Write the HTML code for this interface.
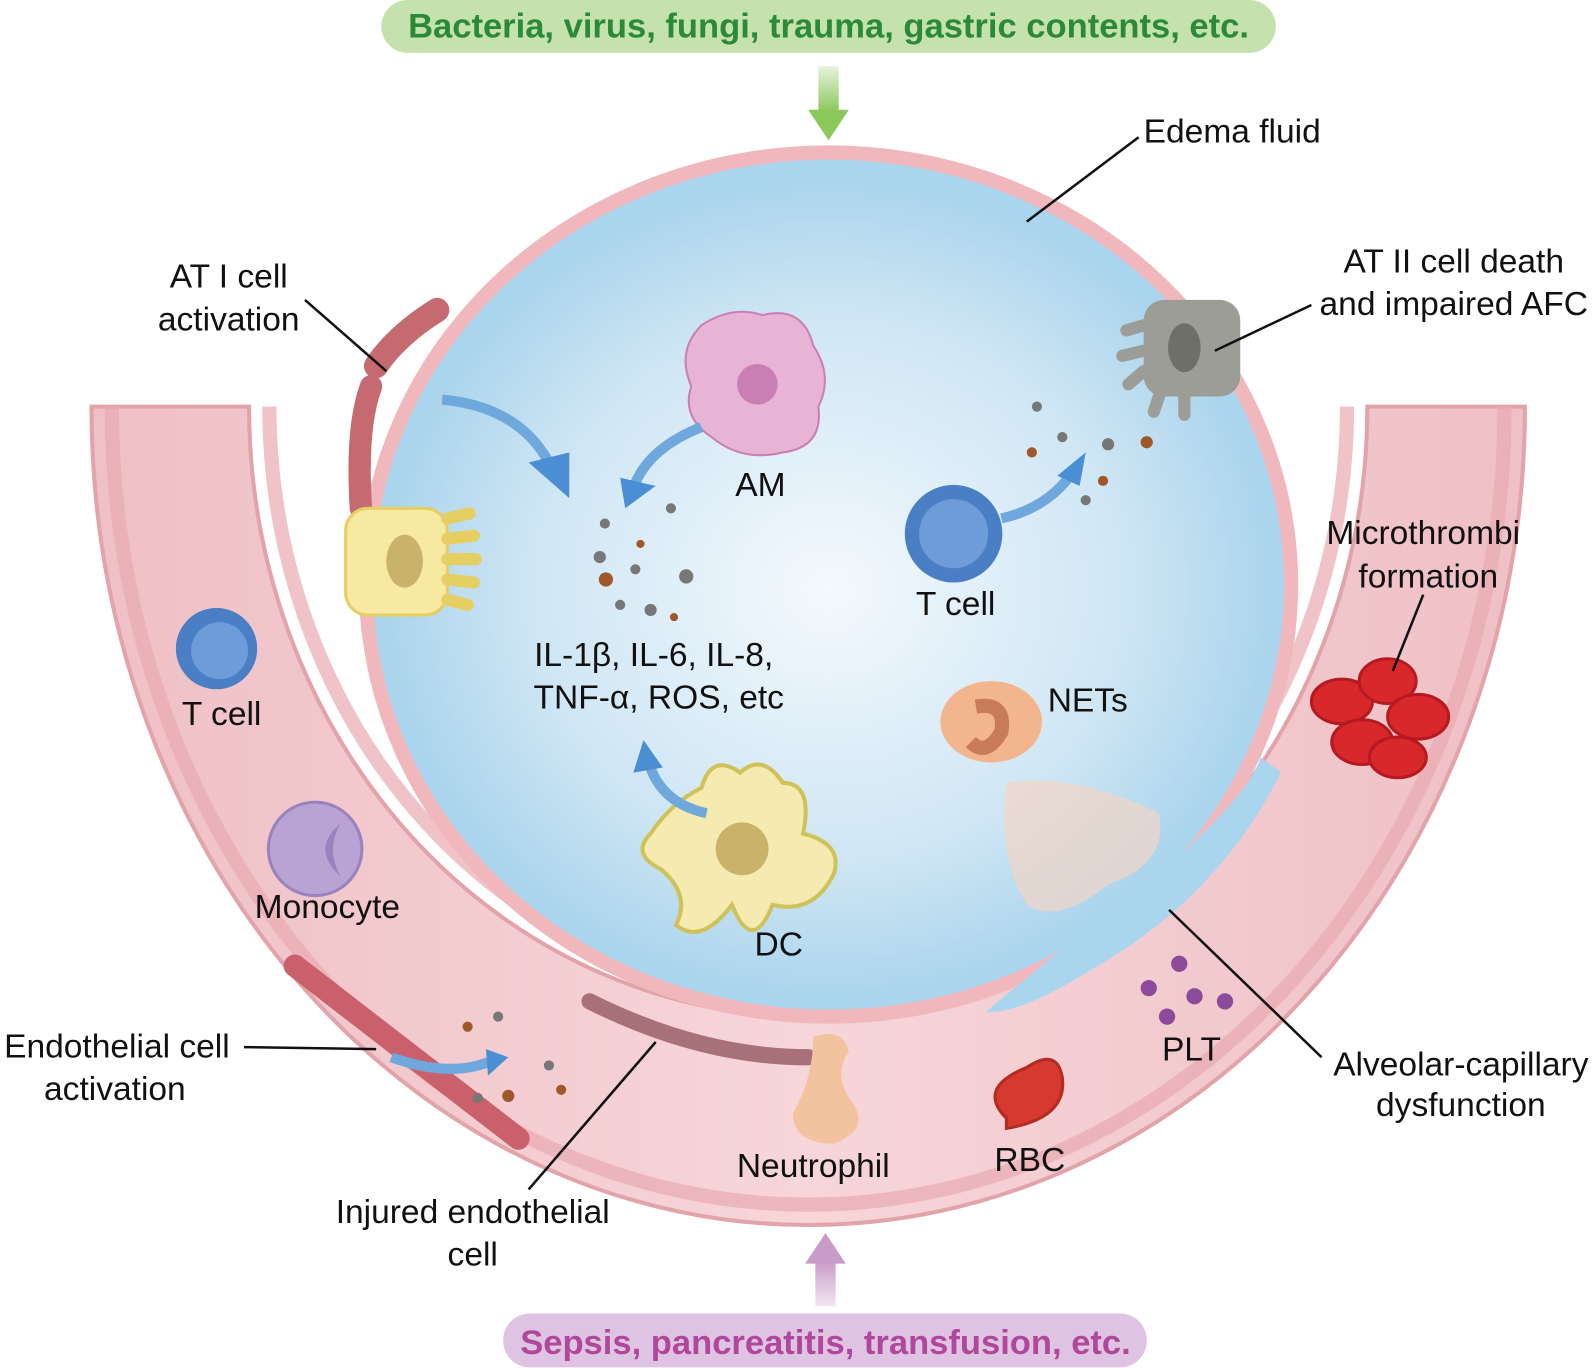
<!DOCTYPE html>
<html><head><meta charset="utf-8"><style>
html,body{margin:0;padding:0;background:#fff;}
svg{display:block;font-family:"Liberation Sans",sans-serif;}
</style></head><body>
<svg width="1594" height="1368" viewBox="0 0 1594 1368" xmlns="http://www.w3.org/2000/svg">
<defs>
<radialGradient id="alv" cx="50%" cy="50%" r="55%">
<stop offset="0" stop-color="#f4f9fd"/><stop offset="0.6" stop-color="#cfe6f4"/><stop offset="1" stop-color="#9fcfea"/></radialGradient>
<linearGradient id="cap" x1="0" y1="0" x2="1" y2="0">
<stop offset="0" stop-color="#efc0c5"/><stop offset="0.5" stop-color="#f6d6d9"/><stop offset="1" stop-color="#efc0c5"/></linearGradient>
<linearGradient id="ga" x1="0" y1="0" x2="0" y2="1"><stop offset="0" stop-color="#e7f3dc"/><stop offset="1" stop-color="#8cc85a"/></linearGradient>
<linearGradient id="pa" x1="0" y1="1" x2="0" y2="0"><stop offset="0" stop-color="#f3e6f2"/><stop offset="1" stop-color="#c89bc8"/></linearGradient>
</defs>
<g transform="scale(1.0166)">
<path d="M90 400 A705 805 0 0 0 1500 400 L1345 400 A550 600 0 0 1 245 400 Z" fill="url(#cap)" stroke="#e3a3aa" stroke-width="4"/>
<path d="M110 400 A685 785 0 0 0 1480 400" fill="none" stroke="#e8aab1" stroke-width="14" opacity="0.7"/>
<path d="M1325 400 A530 580 0 0 1 265 400" fill="none" stroke="#e8aab1" stroke-width="14" opacity="0.7"/>
<path d="M290 950 Q380 1020 510 1120" stroke="#c9606c" stroke-width="22" fill="none" stroke-linecap="round"/>
<path d="M580 985 Q690 1040 795 1040" stroke="#a87078" stroke-width="16" fill="none" stroke-linecap="round"/>
<ellipse cx="815" cy="575" rx="462" ry="432" fill="#f0b8bc"/>
<ellipse cx="815" cy="575" rx="448" ry="418" fill="#a9d6ee"/>
<ellipse cx="815" cy="580" rx="440" ry="405" fill="url(#alv)"/>
<path d="M370 360 Q390 330 430 305" stroke="#c66a72" stroke-width="24" fill="none" stroke-linecap="round"/>
<path d="M365 380 Q350 420 355 500" stroke="#c66a72" stroke-width="22" fill="none" stroke-linecap="round"/>
<path d="M1150 850 Q1230 780 1240 745 L1260 760 Q1200 880 1080 950 Q1000 1000 970 995 Q1060 920 1150 850Z" fill="#a9d6ee"/>
<rect x="805" y="65" width="20" height="45" fill="url(#ga)"/>
<polygon points="795,108 835,108 815,138" fill="#8cc85a"/>
<rect x="802" y="1240" width="20" height="45" fill="url(#pa)"/>
<polygon points="792,1243 832,1243 812,1213" fill="#c89bc8"/>
<rect x="375" y="0" width="880" height="52" rx="26" fill="#c5e1ae"/>
<text x="815" y="37" text-anchor="middle" font-size="34" font-weight="bold" fill="#2a8a3a">Bacteria, virus, fungi, trauma, gastric contents, etc.</text>
<rect x="495" y="1292" width="633" height="53" rx="26" fill="#dfc3e2"/>
<text x="812" y="1332" text-anchor="middle" font-size="34" font-weight="bold" fill="#b0479a">Sepsis, pancreatitis, transfusion, etc.</text>
<path d="M690 320 Q720 300 750 310 Q790 300 800 340 Q820 370 805 400 Q810 440 770 445 Q730 455 700 430 Q670 410 680 380 Q665 345 690 320Z" fill="#e8b4d6" stroke="#c97fb4" stroke-width="2"/>
<circle cx="745" cy="378" r="20" fill="#c97fb4"/>
<circle cx="938" cy="525" r="48" fill="#4a7fc6"/><circle cx="938" cy="525" r="34" fill="#6d9cd8"/>
<circle cx="213" cy="638" r="40" fill="#4a7fc6"/><circle cx="216" cy="640" r="28" fill="#6d9cd8"/>
<circle cx="310" cy="835" r="46" fill="#b9a3d4" stroke="#9a82bd" stroke-width="3"/>
<path d="M335 810 Q305 835 335 862 Q320 835 335 810" fill="#9a82bd"/>
<path d="M728 760 Q700 740 690 775 Q660 790 640 820 Q620 840 650 855 Q680 880 665 910 Q690 930 720 890 Q740 940 760 890 Q800 900 820 860 Q830 830 790 820 Q800 770 770 770 Q750 740 728 760Z" fill="#f5ebb0" stroke="#cfc25a" stroke-width="4"/>
<circle cx="730" cy="835" r="26" fill="#c9b36a"/>
<rect x="340" y="500" width="100" height="105" rx="22" fill="#f8e9a2" stroke="#e6cf62" stroke-width="3"/>
<ellipse cx="398" cy="552" rx="18" ry="26" fill="#c9b36a"/>
<g stroke="#e6cf62" stroke-width="12" stroke-linecap="round"><line x1="440" y1="510" x2="462" y2="505"/><line x1="440" y1="530" x2="466" y2="527"/><line x1="440" y1="550" x2="468" y2="550"/><line x1="440" y1="570" x2="466" y2="573"/><line x1="440" y1="590" x2="460" y2="595"/></g>
<rect x="1125" y="295" width="95" height="95" rx="20" fill="#9d9d97"/>
<ellipse cx="1165" cy="342" rx="16" ry="24" fill="#6f6f6a"/>
<g stroke="#9d9d97" stroke-width="12" stroke-linecap="round"><line x1="1125" y1="320" x2="1108" y2="325"/><line x1="1125" y1="345" x2="1104" y2="350"/><line x1="1125" y1="365" x2="1110" y2="378"/><line x1="1140" y1="390" x2="1135" y2="405"/><line x1="1165" y1="390" x2="1165" y2="408"/></g>
<ellipse cx="975" cy="710" rx="50" ry="40" fill="#f2b58e"/>
<path d="M960 695 Q990 690 985 720 Q970 745 955 730" fill="none" stroke="#c87b5a" stroke-width="14"/>
<path d="M990 770 Q1060 760 1140 800 Q1150 850 1090 870 Q1040 910 1010 890 Q980 840 990 770Z" fill="#f4d4c4" opacity="0.7"/>
<g fill="#d8282c" stroke="#b51a20" stroke-width="3"><ellipse cx="1320" cy="690" rx="30" ry="22"/><ellipse cx="1365" cy="670" rx="28" ry="22"/><ellipse cx="1395" cy="705" rx="30" ry="22"/><ellipse cx="1340" cy="730" rx="30" ry="22"/><ellipse cx="1375" cy="745" rx="28" ry="20"/></g>
<path d="M990 1100 Q960 1070 1010 1050 Q1040 1030 1045 1060 Q1050 1100 990 1110Z" fill="#d63a2e" stroke="#b52a22" stroke-width="3"/>
<path d="M800 1020 Q830 1010 835 1035 Q820 1055 835 1080 Q860 1110 820 1125 Q780 1125 780 1095 Q800 1060 800 1020Z" fill="#f3c3a0"/>
<g fill="#8b4a9a"><circle cx="1130" cy="972" r="8"/><circle cx="1175" cy="980" r="8"/><circle cx="1205" cy="985" r="8"/><circle cx="1148" cy="1000" r="8"/><circle cx="1160" cy="948" r="8"/></g>
<g fill="#777"><circle cx="595" cy="515" r="5"/><circle cx="660" cy="500" r="5"/><circle cx="590" cy="548" r="6"/><circle cx="625" cy="560" r="5"/><circle cx="675" cy="567" r="7"/><circle cx="640" cy="600" r="6"/><circle cx="610" cy="595" r="5"/><circle cx="1020" cy="400" r="5"/><circle cx="1045" cy="430" r="5"/><circle cx="1090" cy="437" r="6"/><circle cx="1068" cy="492" r="5"/><circle cx="490" cy="1000" r="5"/><circle cx="540" cy="1048" r="5"/><circle cx="470" cy="1080" r="5"/></g>
<g fill="#a0582a"><circle cx="596" cy="570" r="7"/><circle cx="630" cy="535" r="4"/><circle cx="663" cy="607" r="4"/><circle cx="1128" cy="435" r="6"/><circle cx="1085" cy="473" r="5"/><circle cx="1015" cy="445" r="5"/><circle cx="460" cy="1010" r="5"/><circle cx="500" cy="1078" r="6"/><circle cx="552" cy="1072" r="5"/></g>
<g fill="none" stroke="#6fa8dc" stroke-width="10"><path d="M435 393 Q510 400 540 455"/><path d="M690 420 Q640 440 625 475"/><path d="M695 800 Q650 790 638 750"/><path d="M985 510 Q1030 500 1055 465"/><path d="M385 1040 Q440 1060 480 1045"/></g>
<g fill="#4a8fd4"><polygon points="520,455 560,490 560,445"/><polygon points="610,470 615,500 645,478"/><polygon points="623,760 633,728 652,755"/><polygon points="1040,468 1068,445 1062,478"/><polygon points="478,1032 500,1040 480,1058"/></g>
<g stroke="#111" stroke-width="2.5" fill="none"><line x1="1010" y1="218" x2="1120" y2="135"/><line x1="300" y1="295" x2="380" y2="365"/><line x1="1195" y1="345" x2="1290" y2="300"/><line x1="1400" y1="585" x2="1370" y2="660"/><line x1="240" y1="1030" x2="370" y2="1032"/><line x1="1150" y1="895" x2="1300" y2="1040"/><line x1="520" y1="1170" x2="645" y2="1025"/></g>
<g font-size="33" fill="#111">
<text x="1125" y="140">Edema fluid</text>
<text x="225" y="283" text-anchor="middle">AT I cell</text>
<text x="225" y="325" text-anchor="middle">activation</text>
<text x="1430" y="268" text-anchor="middle">AT II cell death</text>
<text x="1430" y="310" text-anchor="middle">and impaired AFC</text>
<text x="748" y="488" text-anchor="middle">AM</text>
<text x="940" y="605" text-anchor="middle">T cell</text>
<text x="643" y="655" text-anchor="middle">IL-1β, IL-6, IL-8,</text>
<text x="648" y="697" text-anchor="middle">TNF-α, ROS, etc</text>
<text x="1400" y="535" text-anchor="middle">Microthrombi</text>
<text x="1405" y="578" text-anchor="middle">formation</text>
<text x="218" y="713" text-anchor="middle">T cell</text>
<text x="1070" y="700" text-anchor="middle">NETs</text>
<text x="322" y="903" text-anchor="middle">Monocyte</text>
<text x="766" y="940" text-anchor="middle">DC</text>
<text x="115" y="1040" text-anchor="middle">Endothelial cell</text>
<text x="113" y="1082" text-anchor="middle">activation</text>
<text x="1172" y="1043" text-anchor="middle">PLT</text>
<text x="1437" y="1058" text-anchor="middle">Alveolar-capillary</text>
<text x="1437" y="1098" text-anchor="middle">dysfunction</text>
<text x="800" y="1158" text-anchor="middle">Neutrophil</text>
<text x="1013" y="1152" text-anchor="middle">RBC</text>
<text x="465" y="1203" text-anchor="middle">Injured endothelial</text>
<text x="465" y="1245" text-anchor="middle">cell</text>
</g>
</g>
</svg>
</body></html>
